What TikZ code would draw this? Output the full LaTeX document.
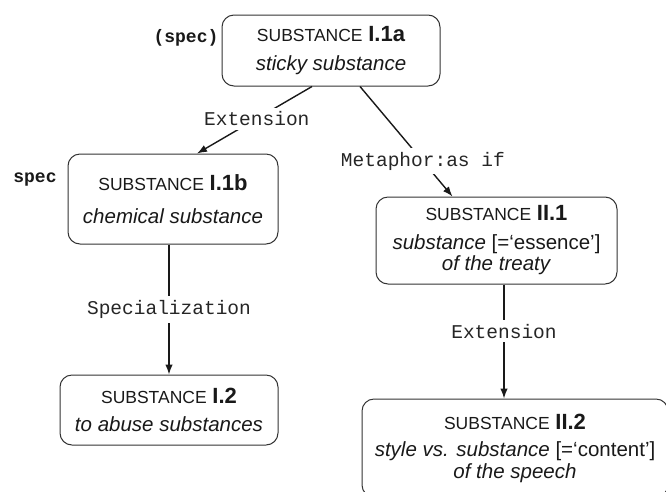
\documentclass[tikz,border=0pt]{standalone}
\usepackage{fontspec}
\setmainfont{Liberation Sans}
\setmonofont{Liberation Mono}
\usetikzlibrary{arrows.meta,calc}
\newcommand\SubstWord{{\fontsize{17.5}{20}\selectfont SUBSTANCE}}
\newcommand\SenseNum[1]{{\fontsize{22}{22}\selectfont\bfseries #1}}
\begin{document}
\begin{tikzpicture}[x=1pt,y=-1pt,
  sense/.style={draw=black!80, line width=1pt, rounded corners=12pt, align=center,
    inner sep=0pt, text=black!90, font=\fontsize{20.5}{21.5}\selectfont},
  rel/.style={font=\ttfamily\fontsize{19.5}{22}\selectfont, fill=white, inner sep=4pt, text=black!85},
  tag/.style={font=\ttfamily\bfseries\fontsize{18}{20}\selectfont, text=black!90},
  link/.style={line width=1.4pt, draw=black!90, -{Latex[length=10pt,width=7.5pt]}}]
\useasboundingbox (0,0) rectangle (666,491);

\node[sense, minimum width=218pt, minimum height=71pt] (A) at (331,50.5)
  {\SubstWord\ \SenseNum{I.1a}\\[8pt]\textit{sticky substance}};
\node[sense, minimum width=210pt, minimum height=90pt] (B) at (173,199)
  {\SubstWord\ \SenseNum{I.1b}\\[11pt]\textit{chemical substance}};
\node[sense, minimum width=241pt, minimum height=87pt] (C) at (496.5,240.5)
  {\SubstWord\ \SenseNum{II.1}\\[7pt]\textit{substance} [=‘essence’]\\\textit{of the treaty}};
\node[sense, minimum width=218pt, minimum height=70pt] (D) at (169,410)
  {\SubstWord\ \SenseNum{I.2}\\[6pt]\textit{to abuse substances}};
\node[sense, minimum width=306pt, minimum height=98pt] (E) at (515,448)
  {\SubstWord\ \SenseNum{II.2}\\[6pt]\textit{style vs. substance} [=‘content’]\\\textit{of the speech}};

\node[tag] (tA) at (186,38) {(spec)};
\node[tag] (tB) at (35,180) {spec};

\draw[link] ([xshift=-19pt]A.south) -- node[rel, pos=0.48] {Extension} ([xshift=24pt]B.north);
\draw[link] ([xshift=29pt]A.south) -- node[rel, pos=0.68] {Metaphor:as if} ([xshift=-44pt]C.north);
\draw[link] (D.north |- B.south) -- node[rel, pos=0.5] {Specialization} (D.north);
\coordinate (cs) at ([xshift=7.5pt]C.south);
\draw[link] (cs) -- node[rel, pos=0.41] {Extension} (cs |- E.north);
\end{tikzpicture}
\end{document}
